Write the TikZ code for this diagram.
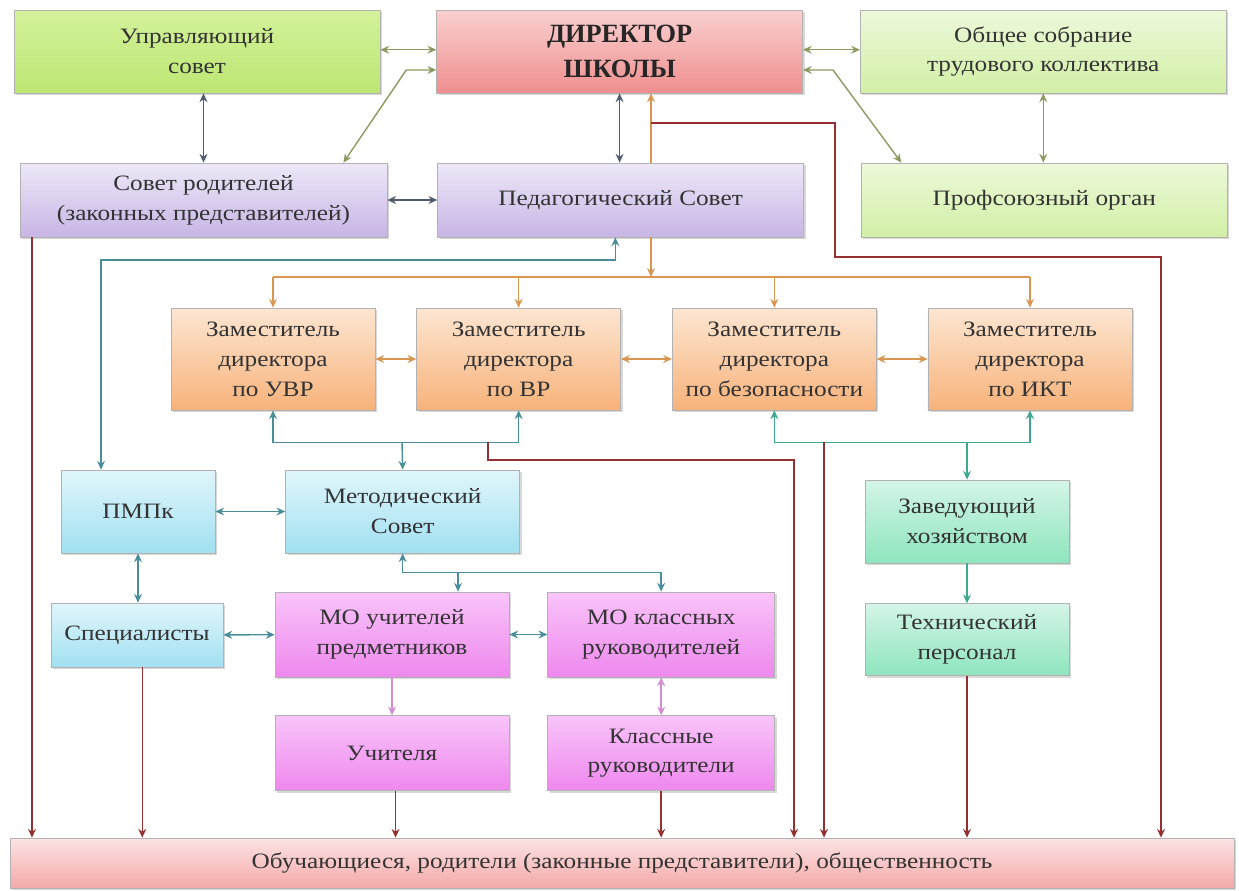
\documentclass[tikz,border=0pt]{standalone}
\usepackage{fontspec}
\setmainfont[FakeStretch=1.15]{Liberation Serif}
\newfontfamily\titlefont{Liberation Serif}
\usepackage{xcolor}
\usetikzlibrary{positioning, arrows.meta, shadows}

\definecolor{limeT}{HTML}{D4F29C}
\definecolor{limeB}{HTML}{BCE672}
\definecolor{paleT}{HTML}{EDF9DA}
\definecolor{paleB}{HTML}{D2EFA6}
\definecolor{redT}{HTML}{FAD0D0}
\definecolor{redB}{HTML}{EF8E8E}
\definecolor{lilacT}{HTML}{EEE8F8}
\definecolor{lilacB}{HTML}{C7B5E5}
\definecolor{orangeT}{HTML}{FDE6D2}
\definecolor{orangeB}{HTML}{F7B27A}
\definecolor{skyT}{HTML}{E0F6FC}
\definecolor{skyB}{HTML}{A2E0F1}
\definecolor{pinkT}{HTML}{F9C4F9}
\definecolor{pinkB}{HTML}{EE88EE}
\definecolor{mintT}{HTML}{D4F5E7}
\definecolor{mintB}{HTML}{8EE5BE}
\definecolor{barT}{HTML}{FCE3E3}
\definecolor{barB}{HTML}{F4A9A9}
\definecolor{olivec}{HTML}{8D9A62}
\definecolor{slatec}{HTML}{4E5C6C}
\definecolor{orangec}{HTML}{D99650}
\definecolor{redc}{HTML}{94302F}
\definecolor{tealc}{HTML}{4B8E9B}
\definecolor{greenc}{HTML}{3FA890}
\definecolor{pinkc}{HTML}{D58ED5}

\begin{document}
\begin{tikzpicture}[x=0.02cm, y=-0.02cm, >={Stealth[length=5pt,width=4.5pt]}]
            % Block styles
            \tikzstyle{block} = [rectangle, draw=black!30, align=center, text=black!80, font=\fontsize{12.5}{17}\selectfont, inner sep=2pt, drop shadow={opacity=0.3, shadow xshift=1.2pt, shadow yshift=-1.2pt}]
            \tikzstyle{block_lime} = [block, top color=limeT, bottom color=limeB, minimum width=7.32cm, minimum height=1.66cm]
            \tikzstyle{block_pale} = [block, top color=paleT, bottom color=paleB, minimum width=7.32cm]
            \tikzstyle{block_red} = [block, top color=redT, bottom color=redB, minimum width=7.32cm, minimum height=1.66cm]
            \tikzstyle{block_lilac} = [block, top color=lilacT, bottom color=lilacB, minimum width=7.32cm, minimum height=1.48cm]
            \tikzstyle{block_orange} = [block, top color=orangeT, bottom color=orangeB, minimum width=4.08cm, minimum height=2.04cm]
            \tikzstyle{block_sky} = [block, top color=skyT, bottom color=skyB]
            \tikzstyle{block_pink} = [block, top color=pinkT, bottom color=pinkB, minimum width=4.68cm]
            \tikzstyle{block_mint} = [block, top color=mintT, bottom color=mintB, minimum width=4.08cm]
            \tikzstyle{link} = [line width=0.8pt]
            \tikzstyle{link_olive} = [link, draw=olivec]
            \tikzstyle{link_slate} = [link, draw=slatec]
            \tikzstyle{link_orange} = [link, draw=orangec]
            \tikzstyle{link_red} = [link, draw=redc]
            \tikzstyle{link_teal} = [link, draw=tealc]
            \tikzstyle{link_green} = [link, draw=greenc]
            \tikzstyle{link_pink} = [link, draw=pinkc]
            \fill[white] (0,0) rectangle (1239,890);
            % Top rows
            \node[block_lime] (upr_sovet) at (197,51.5) {Управляющий\\совет};
            \node[block_red, right=1.12cm of upr_sovet, font=\titlefont\bfseries\fontsize{15}{20}\selectfont, text=black!85] (director) {ДИРЕКТОР\\ШКОЛЫ};
            \node[block_pale, right=1.14cm of director, minimum height=1.66cm] (obsh_sobr) {Общее собрание\\трудового коллектива};
            \node[block_lilac, minimum width=7.34cm] (sovet_rod) at (203.5,200) {Совет родителей\\(законных представителей)};
            \node[block_lilac, right=1cm of sovet_rod] (ped_sovet) {Педагогический Совет};
            \node[block_pale, right=1.14cm of ped_sovet, minimum height=1.48cm] (profsoyuz) {Профсоюзный орган};
            % Deputies
            \node[block_orange] (zam_uvr) at (273,359) {Заместитель\\директора\\по УВР};
            \node[block_orange, right=0.82cm of zam_uvr] (zam_vr) {Заместитель\\директора\\по ВР};
            \node[block_orange, right=1.02cm of zam_vr] (zam_bez) {Заместитель\\директора\\по безопасности};
            \node[block_orange, right=1.02cm of zam_bez] (zam_ikt) {Заместитель\\директора\\по ИКТ};
            % Lower blocks
            \node[block_sky, minimum width=3.08cm, minimum height=1.66cm] (pmpk) at (138,511.5) {ПМПк};
            \node[block_sky, right=1.4cm of pmpk, minimum width=4.68cm, minimum height=1.66cm] (metod_sovet) {Методический\\Совет};
            \node[block_mint, minimum height=1.66cm] (zav_hoz) at (967,521.5) {Заведующий\\хозяйством};
            \node[block_mint, below=0.8cm of zav_hoz, minimum height=1.44cm] (tech_pers) {Технический\\персонал};
            \node[block_sky, minimum width=3.44cm, minimum height=1.28cm] (specialists) at (137,635) {Специалисты};
            \node[block_pink, minimum height=1.7cm] (mo_uchit) at (392,634.5) {МО учителей\\предметников};
            \node[block_pink, right=0.76cm of mo_uchit, minimum width=4.54cm, minimum height=1.7cm] (mo_klass) {МО классных\\руководителей};
            \node[block_pink, below=0.76cm of mo_uchit, minimum height=1.5cm] (uchitelya) {Учителя};
            \node[block_pink, below=0.76cm of mo_klass, minimum width=4.54cm, minimum height=1.5cm] (klass_ruk) {Классные\\руководители};
            \node[block, top color=barT, bottom color=barB, minimum width=24.48cm, minimum height=1cm] (students) at (622,863) {Обучающиеся, родители (законные представители), общественность};
            % Bus points
            \coordinate (or_bus) at (651,277);
            \coordinate (red_a) at (651,123);
            \coordinate (red_b) at (1161,257);
            \coordinate (teal_a) at (101,260);
            \coordinate (bus_left) at (402,442);
            \coordinate (bus_right) at (967,442);
            \coordinate (red_c) at (488,442);
            \coordinate (red_d) at (794,460);
            \coordinate (red_e) at (824,442);
            \coordinate (mo_bus) at (458,572);
            % Connections
            \draw[link_olive, <->] ([yshift=1pt]upr_sovet.east) -- ([yshift=1pt]director.west);
            \draw[link_olive, <->] ([yshift=-10.5pt]director.west) -- ++(-30,0) -- ([xshift=-25pt]sovet_rod.north east);
            \draw[link_olive, <->] ([yshift=1pt]director.east) -- ([yshift=1pt]obsh_sobr.west);
            \draw[link_olive, <->] ([yshift=-10.5pt]director.east) -- ++(30,0) -- ([xshift=23pt]profsoyuz.north west);
            \draw[link_olive, <->] (obsh_sobr.south) -- (obsh_sobr.south |- profsoyuz.north);
            \draw[link_slate, <->] (sovet_rod.north |- upr_sovet.south) -- (sovet_rod.north);
            \draw[link_slate, <->] (director.south) -- (director.south |- ped_sovet.north);
            \draw[link_slate, <->] (sovet_rod) -- (ped_sovet);
            \draw[link_orange, ->] (ped_sovet.north -| or_bus) -- (director.south -| or_bus);
            \draw[link_orange, ->] (ped_sovet.south -| or_bus) -- (or_bus);
            \draw[link_orange] (or_bus -| zam_uvr.north) -- (or_bus -| zam_ikt.north);
            \draw[link_orange, ->] (or_bus -| zam_uvr.north) -- (zam_uvr.north);
            \draw[link_orange, ->] (or_bus -| zam_vr.north) -- (zam_vr.north);
            \draw[link_orange, ->] (or_bus -| zam_bez.north) -- (zam_bez.north);
            \draw[link_orange, ->] (or_bus -| zam_ikt.north) -- (zam_ikt.north);
            \draw[link_orange, <->] (zam_uvr) -- (zam_vr);
            \draw[link_orange, <->] (zam_vr) -- (zam_bez);
            \draw[link_orange, <->] (zam_bez) -- (zam_ikt);
            \draw[link_red, ->] (red_a) -- ++(184,0) |- (red_b) -- (red_b |- students.north);
            \draw[link_teal, <->] ([xshift=-3pt]ped_sovet.south) |- (teal_a) -- (teal_a |- pmpk.north);
            \draw[link_teal, <->] (zam_uvr.south) -- ++(0,32) -| (zam_vr.south);
            \draw[link_teal, ->] (bus_left) -- (metod_sovet.north);
            \draw[link_green, <->] (zam_bez.south) -- ++(0,32) -| (zam_ikt.south);
            \draw[link_green, ->] (bus_right) -- (zav_hoz.north);
            \draw[link_green, ->] (zav_hoz) -- (tech_pers);
            \draw[link_teal, <->] (pmpk) -- (metod_sovet);
            \draw[link_teal, <->] (pmpk.south) -- (pmpk.south |- specialists.north);
            \draw[link_teal, <->] (metod_sovet.south) -- ++(0,19) -| (mo_klass.north);
            \draw[link_teal, ->] (mo_bus) -- (mo_bus |- mo_uchit.north);
            \draw[link_teal, <->] (specialists) -- (mo_uchit);
            \draw[link_teal, <->] (mo_uchit) -- (mo_klass);
            \draw[link_pink, ->] (mo_uchit) -- (uchitelya);
            \draw[link_pink, <->] (mo_klass) -- (klass_ruk);
            \draw[link_red, ->] (red_c) |- (red_d) -- (red_d |- students.north);
            \draw[link_red, ->] (red_e) -- (red_e |- students.north);
            \draw[link_red, ->] ([xshift=7pt]sovet_rod.south west) -- ([xshift=7pt]sovet_rod.south west |- students.north);
            \draw[link_red, ->] ([xshift=3pt]specialists.south) -- ([xshift=3pt]specialists.south |- students.north);
            \draw[link_red, ->] ([xshift=2pt]uchitelya.south) -- ([xshift=2pt]uchitelya.south |- students.north);
            \draw[link_red, ->] (klass_ruk.south) -- (klass_ruk.south |- students.north);
            \draw[link_red, ->] (tech_pers.south) -- (tech_pers.south |- students.north);
        \end{tikzpicture}
\end{document}
